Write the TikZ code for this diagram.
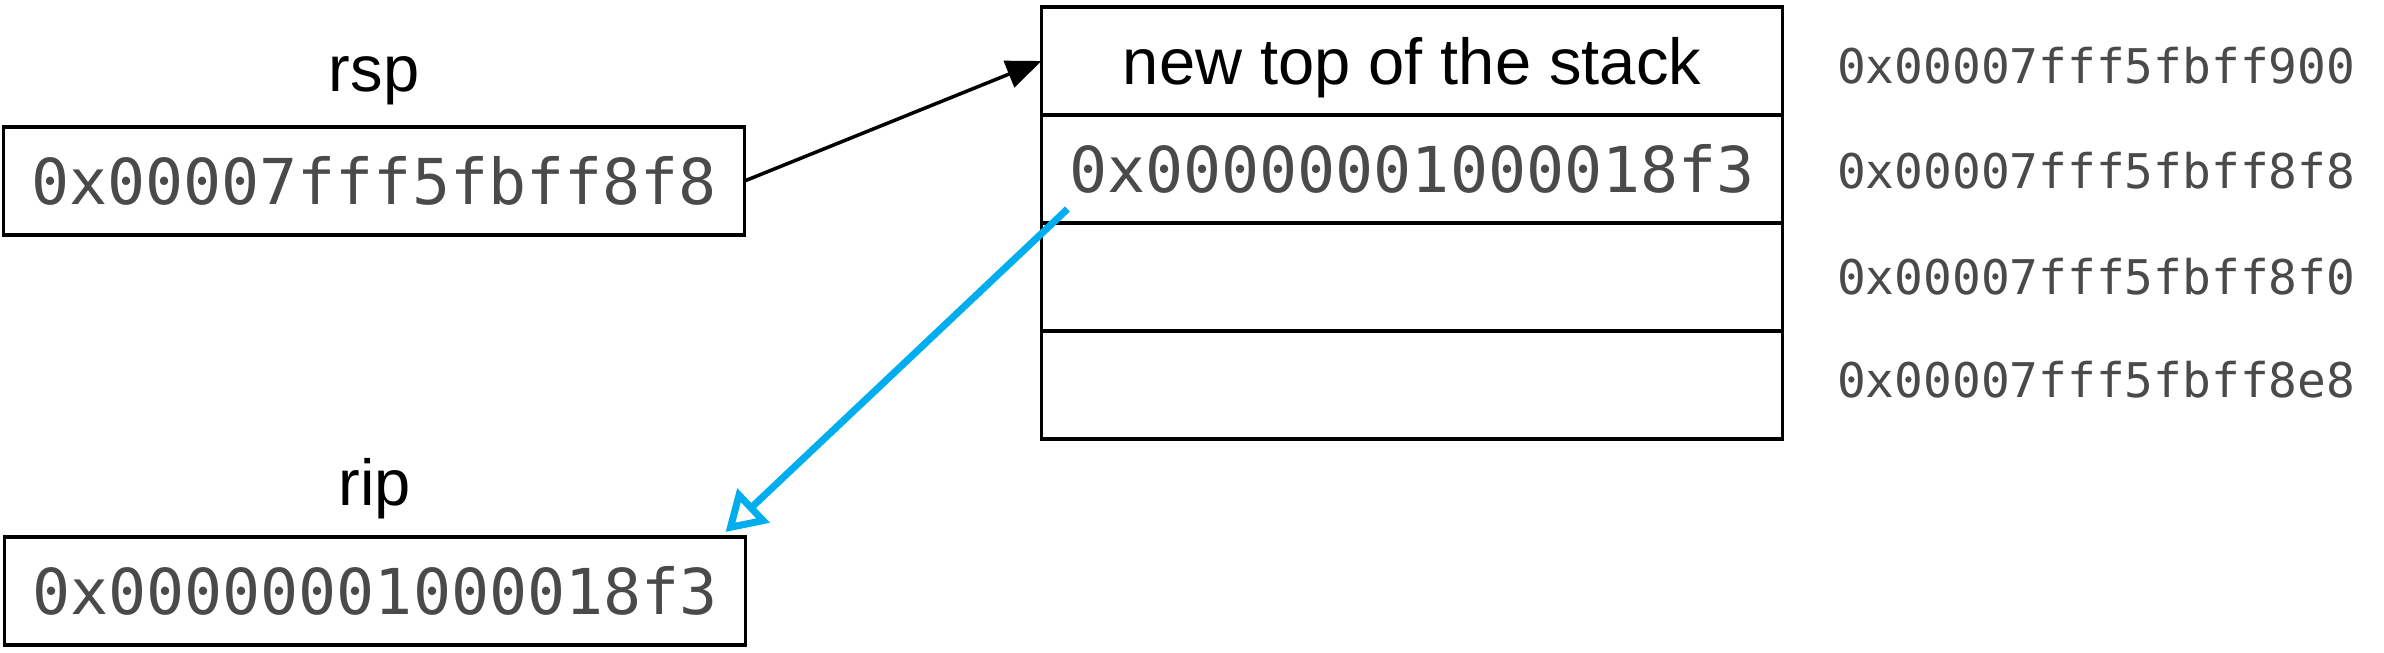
\documentclass[tikz,border=0pt]{standalone}
\usepackage{fontspec}
\setmainfont{Liberation Sans}
\newfontfamily\addrfont{DejaVu Sans Mono}
\usetikzlibrary{arrows.meta,positioning}
\definecolor{addrgray}{HTML}{4A4A4A}
\definecolor{retblue}{HTML}{00AEEF}

\begin{document}
\begin{tikzpicture}[
  cell/.style={draw, line width=1.1pt, minimum width=7.41cm, minimum height=1.08cm,
    inner sep=0pt, outer sep=0pt, font=\addrfont\fontsize{18}{20}\selectfont, text=addrgray},
  reg/.style={inner sep=0pt, font=\fontsize{18.5}{20}\selectfont},
  addr/.style={inner sep=0pt, font=\addrfont\fontsize{13.6}{16}\selectfont, text=addrgray}
]
  \useasboundingbox (0,0) rectangle (23.84,6.52);

  \node[cell] (rspbox) at (3.74,4.71) {0x00007fff5fbff8f8};
  \node[reg, above=0.21cm of rspbox] (rsp) {rsp};
  \node[cell] (ripbox) at (3.75,0.61) {0x00000001000018f3};
  \node[reg, above=0.17cm of ripbox] (rip) {rip};

  \node[cell, font=\fontsize{18.5}{20}\selectfont, text=black, text depth=0pt] (slot0) at (14.12,5.91) {new top of the stack};
  \node[cell, below=0pt of slot0] (slot1) {0x00000001000018f3};
  \node[cell, below=0pt of slot1] (slot2) {};
  \node[cell, below=0pt of slot2] (slot3) {};

  \node[addr, right=0.54cm of slot0, yshift=-0.05cm] (addr0) {0x00007fff5fbff900};
  \node[addr, right=0.54cm of slot1, yshift=-0.02cm] (addr1) {0x00007fff5fbff8f8};
  \node[addr, right=0.54cm of slot2] (addr2) {0x00007fff5fbff8f0};
  \node[addr, right=0.54cm of slot3, yshift=0.05cm] (addr3) {0x00007fff5fbff8e8};

  \coordinate (ret) at ([shift={(0.26,0.14)}]slot1.south west);
  \draw[line width=1pt, -{Triangle[length=10pt,width=8pt]}] (rspbox.east) -- (slot0.west);
  \draw[retblue, line width=2pt, -{Triangle[open,length=11pt,width=13pt]}] (ret) -- ([shift={(-0.2,0.05)}]ripbox.north east);
\end{tikzpicture}
\end{document}
